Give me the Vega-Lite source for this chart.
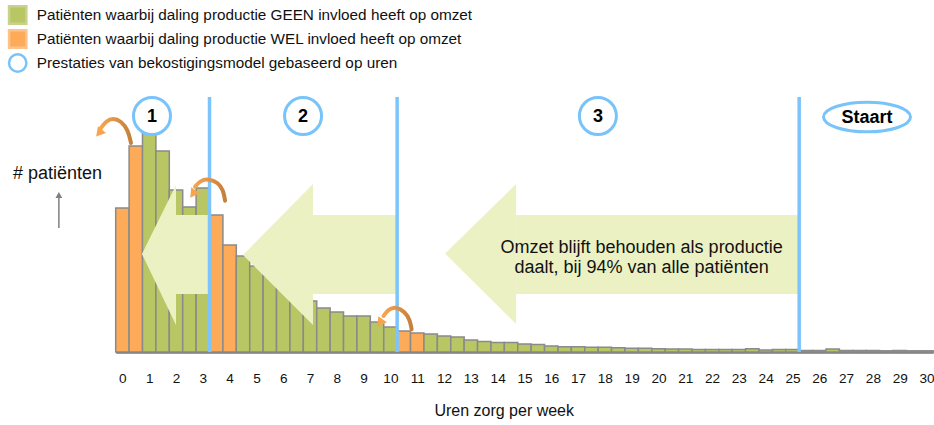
{
  "$schema": "https://vega.github.io/schema/vega-lite/v6.json",
  "width": 817.5,
  "height": 255,
  "autosize": "none",
  "padding": {"left": 115.7, "top": 97, "right": 0.8, "bottom": 73},
  "background": "white",
  "config": {
    "view": {"stroke": null},
    "font": "Liberation Sans",
    "text": {"font": "Liberation Sans"}
  },
  "datasets": {
    "bars": [
      {"u": 0, "n": 144, "cat": "Patiënten waarbij daling productie WEL invloed heeft op omzet"},
      {"u": 0.5, "n": 206, "cat": "Patiënten waarbij daling productie WEL invloed heeft op omzet"},
      {"u": 1, "n": 220, "cat": "Patiënten waarbij daling productie GEEN invloed heeft op omzet"},
      {"u": 1.5, "n": 201, "cat": "Patiënten waarbij daling productie GEEN invloed heeft op omzet"},
      {"u": 2, "n": 162, "cat": "Patiënten waarbij daling productie GEEN invloed heeft op omzet"},
      {"u": 2.5, "n": 145, "cat": "Patiënten waarbij daling productie GEEN invloed heeft op omzet"},
      {"u": 3, "n": 164, "cat": "Patiënten waarbij daling productie GEEN invloed heeft op omzet"},
      {"u": 3.5, "n": 137, "cat": "Patiënten waarbij daling productie WEL invloed heeft op omzet"},
      {"u": 4, "n": 107, "cat": "Patiënten waarbij daling productie WEL invloed heeft op omzet"},
      {"u": 4.5, "n": 96, "cat": "Patiënten waarbij daling productie GEEN invloed heeft op omzet"},
      {"u": 5, "n": 86, "cat": "Patiënten waarbij daling productie GEEN invloed heeft op omzet"},
      {"u": 5.5, "n": 76, "cat": "Patiënten waarbij daling productie GEEN invloed heeft op omzet"},
      {"u": 6, "n": 67, "cat": "Patiënten waarbij daling productie GEEN invloed heeft op omzet"},
      {"u": 6.5, "n": 58, "cat": "Patiënten waarbij daling productie GEEN invloed heeft op omzet"},
      {"u": 7, "n": 51, "cat": "Patiënten waarbij daling productie GEEN invloed heeft op omzet"},
      {"u": 7.5, "n": 44, "cat": "Patiënten waarbij daling productie GEEN invloed heeft op omzet"},
      {"u": 8, "n": 40, "cat": "Patiënten waarbij daling productie GEEN invloed heeft op omzet"},
      {"u": 8.5, "n": 36, "cat": "Patiënten waarbij daling productie GEEN invloed heeft op omzet"},
      {"u": 9, "n": 36, "cat": "Patiënten waarbij daling productie GEEN invloed heeft op omzet"},
      {"u": 9.5, "n": 30, "cat": "Patiënten waarbij daling productie GEEN invloed heeft op omzet"},
      {"u": 10, "n": 25, "cat": "Patiënten waarbij daling productie GEEN invloed heeft op omzet"},
      {"u": 10.5, "n": 21, "cat": "Patiënten waarbij daling productie WEL invloed heeft op omzet"},
      {"u": 11, "n": 19, "cat": "Patiënten waarbij daling productie WEL invloed heeft op omzet"},
      {"u": 11.5, "n": 18, "cat": "Patiënten waarbij daling productie GEEN invloed heeft op omzet"},
      {"u": 12, "n": 16, "cat": "Patiënten waarbij daling productie GEEN invloed heeft op omzet"},
      {"u": 12.5, "n": 15, "cat": "Patiënten waarbij daling productie GEEN invloed heeft op omzet"},
      {"u": 13, "n": 12, "cat": "Patiënten waarbij daling productie GEEN invloed heeft op omzet"},
      {"u": 13.5, "n": 10.5, "cat": "Patiënten waarbij daling productie GEEN invloed heeft op omzet"},
      {"u": 14, "n": 9.5, "cat": "Patiënten waarbij daling productie GEEN invloed heeft op omzet"},
      {"u": 14.5, "n": 9.5, "cat": "Patiënten waarbij daling productie GEEN invloed heeft op omzet"},
      {"u": 15, "n": 8, "cat": "Patiënten waarbij daling productie GEEN invloed heeft op omzet"},
      {"u": 15.5, "n": 7.5, "cat": "Patiënten waarbij daling productie GEEN invloed heeft op omzet"},
      {"u": 16, "n": 6, "cat": "Patiënten waarbij daling productie GEEN invloed heeft op omzet"},
      {"u": 16.5, "n": 5.3, "cat": "Patiënten waarbij daling productie GEEN invloed heeft op omzet"},
      {"u": 17, "n": 5.3, "cat": "Patiënten waarbij daling productie GEEN invloed heeft op omzet"},
      {"u": 17.5, "n": 4.7, "cat": "Patiënten waarbij daling productie GEEN invloed heeft op omzet"},
      {"u": 18, "n": 4.7, "cat": "Patiënten waarbij daling productie GEEN invloed heeft op omzet"},
      {"u": 18.5, "n": 4.3, "cat": "Patiënten waarbij daling productie GEEN invloed heeft op omzet"},
      {"u": 19, "n": 3.7, "cat": "Patiënten waarbij daling productie GEEN invloed heeft op omzet"},
      {"u": 19.5, "n": 3.7, "cat": "Patiënten waarbij daling productie GEEN invloed heeft op omzet"},
      {"u": 20, "n": 3.3, "cat": "Patiënten waarbij daling productie GEEN invloed heeft op omzet"},
      {"u": 20.5, "n": 3, "cat": "Patiënten waarbij daling productie GEEN invloed heeft op omzet"},
      {"u": 21, "n": 3, "cat": "Patiënten waarbij daling productie GEEN invloed heeft op omzet"},
      {"u": 21.5, "n": 2.5, "cat": "Patiënten waarbij daling productie GEEN invloed heeft op omzet"},
      {"u": 22, "n": 2.5, "cat": "Patiënten waarbij daling productie GEEN invloed heeft op omzet"},
      {"u": 22.5, "n": 2.5, "cat": "Patiënten waarbij daling productie GEEN invloed heeft op omzet"},
      {"u": 23, "n": 2.5, "cat": "Patiënten waarbij daling productie GEEN invloed heeft op omzet"},
      {"u": 23.5, "n": 3.3, "cat": "Patiënten waarbij daling productie GEEN invloed heeft op omzet"},
      {"u": 24, "n": 2, "cat": "Patiënten waarbij daling productie GEEN invloed heeft op omzet"},
      {"u": 24.5, "n": 2.5, "cat": "Patiënten waarbij daling productie GEEN invloed heeft op omzet"},
      {"u": 25, "n": 2.5, "cat": "Patiënten waarbij daling productie GEEN invloed heeft op omzet"},
      {"u": 25.5, "n": 1.5, "cat": "Patiënten waarbij daling productie GEEN invloed heeft op omzet"},
      {"u": 26, "n": 1.5, "cat": "Patiënten waarbij daling productie GEEN invloed heeft op omzet"},
      {"u": 26.5, "n": 3, "cat": "Patiënten waarbij daling productie GEEN invloed heeft op omzet"},
      {"u": 27, "n": 1.5, "cat": "Patiënten waarbij daling productie GEEN invloed heeft op omzet"},
      {"u": 27.5, "n": 1.5, "cat": "Patiënten waarbij daling productie GEEN invloed heeft op omzet"},
      {"u": 28, "n": 1.5, "cat": "Patiënten waarbij daling productie GEEN invloed heeft op omzet"},
      {"u": 28.5, "n": 1.2, "cat": "Patiënten waarbij daling productie GEEN invloed heeft op omzet"},
      {"u": 29, "n": 1.5, "cat": "Patiënten waarbij daling productie GEEN invloed heeft op omzet"},
      {"u": 29.5, "n": 1.2, "cat": "Patiënten waarbij daling productie GEEN invloed heeft op omzet"},
      {"u": 30, "n": 1.2, "cat": "Patiënten waarbij daling productie GEEN invloed heeft op omzet"}
    ],
    "shafts": [
      {"a": "A1", "u": 2.0, "u2": 3.25, "n": 137, "n2": 58},
      {"a": "A2", "u": 7.11, "u2": 10.25, "n": 137, "n2": 58},
      {"a": "A3", "u": 14.69, "u2": 25.25, "n": 137, "n2": 58}
    ],
    "heads1": [
      {"u": 0.73, "n": 98, "n2": 98},
      {"u": 2.0, "n": 167, "n2": 27}
    ],
    "heads2": [
      {"u": 4.5, "n": 97, "n2": 97},
      {"u": 7.11, "n": 168, "n2": 27}
    ],
    "heads3": [
      {"u": 12.04, "n": 98.5, "n2": 98.5},
      {"u": 14.69, "n": 168, "n2": 28}
    ],
    "dividers": [{"u": 3.25, "n": 0, "n2": 255}, {"u": 10.25, "n": 0, "n2": 255}, {"u": 25.25, "n": 0, "n2": 255}],
    "circles": [
      {"u": 1.104, "n": 236, "label": "1", "cat": "Prestaties van bekostigingsmodel gebaseerd op uren"},
      {"u": 6.74, "n": 236, "label": "2", "cat": "Prestaties van bekostigingsmodel gebaseerd op uren"},
      {"u": 17.74, "n": 236, "label": "3", "cat": "Prestaties van bekostigingsmodel gebaseerd op uren"}
    ],
    "staart": [{"u": 27.78, "n": 235, "label": "Staart"}],
    "note": [
      {"u": 19.37, "n": 99.3, "t": "Omzet blijft behouden als productie"},
      {"u": 19.37, "n": 78.7, "t": "daalt, bij 94% van alle patiënten"}
    ],
    "curls": [
      {"c": "c1", "o": 1, "u": 0.32, "n": 209},
      {"c": "c1", "o": 2, "u": 0.21, "n": 222},
      {"c": "c1", "o": 3, "u": -0.05, "n": 231},
      {"c": "c1", "o": 4, "u": -0.35, "n": 234},
      {"c": "c1", "o": 5, "u": -0.61, "n": 231},
      {"c": "c1", "o": 6, "u": -0.8, "n": 224},
      {"c": "c2", "o": 1, "u": 3.83, "n": 151.3},
      {"c": "c2", "o": 2, "u": 3.76, "n": 162},
      {"c": "c2", "o": 3, "u": 3.58, "n": 169.3},
      {"c": "c2", "o": 4, "u": 3.21, "n": 173.3},
      {"c": "c2", "o": 5, "u": 2.9, "n": 171.3},
      {"c": "c2", "o": 6, "u": 2.71, "n": 165.3},
      {"c": "c3", "o": 1, "u": 10.79, "n": 22.7},
      {"c": "c3", "o": 2, "u": 10.73, "n": 32},
      {"c": "c3", "o": 3, "u": 10.54, "n": 40.3},
      {"c": "c3", "o": 4, "u": 10.21, "n": 45.3},
      {"c": "c3", "o": 5, "u": 9.92, "n": 42.7},
      {"c": "c3", "o": 6, "u": 9.74, "n": 36}
    ],
    "heads": [
      {"c": "c1", "u": -0.87, "n": 219},
      {"c": "c2", "u": 2.63, "n": 158},
      {"c": "c3", "u": 9.61, "n": 29}
    ],
    "yarrow": [{"u": -2.37, "n": 124, "n2": 155}],
    "ytip": [{"u": -2.37, "n": 157}]
  },
  "encoding": {
    "x": {
      "field": "u", "type": "quantitative",
      "scale": {"domain": [-0.25, 30.25], "nice": false, "zero": false, "padding": 0},
      "axis": {
        "values": [0,1,2,3,4,5,6,7,8,9,10,11,12,13,14,15,16,17,18,19,20,21,22,23,24,25,26,27,28,29,30],
        "format": "d", "grid": false, "ticks": false, "tickSize": 0,
        "domainColor": "#777777", "domainWidth": 2.5,
        "labelFont": "Liberation Sans", "labelFontSize": 13.6, "labelColor": "#111111",
        "labelBaseline": "alphabetic", "labelPadding": 30, "labelFlush": false, "labelOverlap": false,
        "title": "Uren zorg per week", "titleFont": "Liberation Sans", "titleFontSize": 16,
        "titleFontWeight": "normal", "titleColor": "#111111",
        "titleX": 388, "titleY": 63.5, "titleAlign": "center", "titleBaseline": "alphabetic"
      }
    },
    "y": {
      "field": "n", "type": "quantitative",
      "scale": {"domain": [0, 255], "nice": false, "padding": 0},
      "axis": {
        "labels": false, "ticks": false, "domain": false, "grid": false,
        "title": "# patiënten", "titleFont": "Liberation Sans", "titleFontSize": 18,
        "titleFontWeight": "normal", "titleColor": "#111111", "titleAngle": 0,
        "titleX": -58.7, "titleY": 81.3, "titleAlign": "center", "titleBaseline": "alphabetic"
      }
    }
  },
  "layer": [
    {
      "data": {"name": "bars"},
      "mark": {"type": "bar", "width": 13.4, "stroke": "#8a8a8a", "strokeWidth": 1.5},
      "encoding": {
        "fill": {
          "field": "cat", "type": "nominal",
          "scale": {
            "domain": [
              "Patiënten waarbij daling productie GEEN invloed heeft op omzet",
              "Patiënten waarbij daling productie WEL invloed heeft op omzet",
              "Prestaties van bekostigingsmodel gebaseerd op uren"
            ],
            "range": ["#b9c664", "#fdab58", "#ffffff"]
          },
          "legend": {
            "title": null, "orient": "none", "legendX": -108, "legendY": -92,
            "labelFont": "Liberation Sans", "labelFontSize": 15.3, "labelColor": "#111111",
            "labelLimit": 700, "symbolSize": 300, "symbolStrokeWidth": 2.5,
            "rowPadding": -4, "labelOffset": 9, "padding": 0
          }
        }
      }
    },
    {
      "data": {"name": "shafts"},
      "mark": {"type": "rect", "fill": "#ecf1c4", "opacity": 1},
      "encoding": {
        "x2": {"field": "u2"},
        "y2": {"field": "n2"}
      }
    },
    {
      "data": {"name": "heads1"},
      "mark": {"type": "area", "fill": "#ecf1c4", "opacity": 1},
      "encoding": {"y2": {"field": "n2"}}
    },
    {
      "data": {"name": "heads2"},
      "mark": {"type": "area", "fill": "#ecf1c4", "opacity": 1},
      "encoding": {"y2": {"field": "n2"}}
    },
    {
      "data": {"name": "heads3"},
      "mark": {"type": "area", "fill": "#ecf1c4", "opacity": 1},
      "encoding": {"y2": {"field": "n2"}}
    },
    {
      "data": {"name": "note"},
      "mark": {"type": "text", "font": "Liberation Sans", "fontSize": 18, "color": "#111111", "align": "center", "baseline": "alphabetic"},
      "encoding": {"text": {"field": "t"}}
    },
    {
      "data": {"name": "dividers"},
      "mark": {"type": "rule", "color": "#7cc4fb", "strokeWidth": 3.5},
      "encoding": {"y2": {"field": "n2"}}
    },
    {
      "data": {"name": "curls"},
      "mark": {
        "type": "line", "interpolate": "basis", "strokeWidth": 4, "strokeCap": "round",
        "stroke": {"gradient": "linear", "x1": 0, "y1": 0, "x2": 1, "y2": 0,
          "stops": [{"offset": 0, "color": "#f7a44e"}, {"offset": 1, "color": "#c4803c"}]}
      },
      "encoding": {
        "detail": {"field": "c", "type": "nominal"},
        "order": {"field": "o", "type": "quantitative"}
      }
    },
    {
      "data": {"name": "heads"},
      "transform": [{"filter": "datum.c === 'c1'"}],
      "mark": {"type": "point", "shape": "triangle-up", "filled": true, "color": "#f7a44e", "size": 110, "angle": 220, "opacity": 1}
    },
    {
      "data": {"name": "heads"},
      "transform": [{"filter": "datum.c !== 'c1'"}],
      "mark": {"type": "point", "shape": "triangle-up", "filled": true, "color": "#f7a44e", "size": 110, "angle": 215, "opacity": 1}
    },
    {
      "data": {"name": "circles"},
      "mark": {"type": "point", "filled": false, "size": 1369, "strokeWidth": 3, "opacity": 1},
      "encoding": {
        "fill": {"field": "cat", "type": "nominal"},
        "stroke": {
          "field": "cat", "type": "nominal",
          "scale": {
            "domain": [
              "Patiënten waarbij daling productie GEEN invloed heeft op omzet",
              "Patiënten waarbij daling productie WEL invloed heeft op omzet",
              "Prestaties van bekostigingsmodel gebaseerd op uren"
            ],
            "range": ["#c9d28c", "#fcc48c", "#79c3fb"]
          },
          "legend": {
            "title": null, "orient": "none", "legendX": -108, "legendY": -92,
            "labelFont": "Liberation Sans", "labelFontSize": 15.3, "labelColor": "#111111",
            "labelLimit": 700, "symbolSize": 300, "symbolStrokeWidth": 2.5,
            "rowPadding": -4, "labelOffset": 9, "padding": 0
          }
        },
        "shape": {
          "field": "cat", "type": "nominal",
          "scale": {
            "domain": [
              "Patiënten waarbij daling productie GEEN invloed heeft op omzet",
              "Patiënten waarbij daling productie WEL invloed heeft op omzet",
              "Prestaties van bekostigingsmodel gebaseerd op uren"
            ],
            "range": ["square", "square", "circle"]
          },
          "legend": {
            "title": null, "orient": "none", "legendX": -108, "legendY": -92,
            "labelFont": "Liberation Sans", "labelFontSize": 15.3, "labelColor": "#111111",
            "labelLimit": 700, "symbolSize": 300, "symbolStrokeWidth": 2.5,
            "rowPadding": -4, "labelOffset": 9, "padding": 0
          }
        }
      }
    },
    {
      "data": {"name": "staart"},
      "mark": {"type": "point", "shape": "M-1,0A1,0.34,0,1,1,1,0A1,0.34,0,1,1,-1,0Z", "filled": false, "fill": "#ffffff", "stroke": "#79c3fb", "size": 7569, "strokeWidth": 3, "opacity": 1}
    },
    {
      "data": {"name": "circles"},
      "mark": {"type": "text", "font": "Liberation Sans", "fontSize": 18, "fontWeight": "bold", "color": "#000000", "align": "center", "baseline": "middle", "dy": 1},
      "encoding": {"text": {"field": "label"}}
    },
    {
      "data": {"name": "staart"},
      "mark": {"type": "text", "font": "Liberation Sans", "fontSize": 18, "fontWeight": "bold", "color": "#000000", "align": "center", "baseline": "middle", "dy": 1},
      "encoding": {"text": {"field": "label"}}
    },
    {
      "data": {"name": "yarrow"},
      "mark": {"type": "rule", "color": "#7f7f7f", "strokeWidth": 1.5},
      "encoding": {"y2": {"field": "n2"}}
    },
    {
      "data": {"name": "ytip"},
      "mark": {"type": "point", "shape": "triangle-up", "filled": true, "color": "#7f7f7f", "size": 45, "opacity": 1}
    }
  ]
}
